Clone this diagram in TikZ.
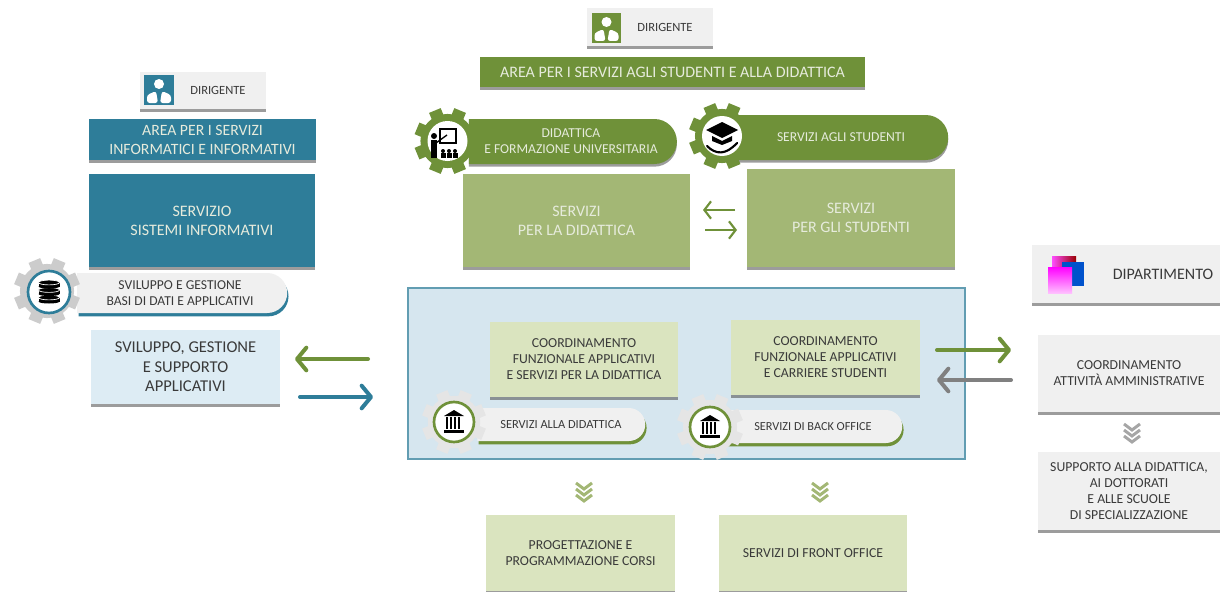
\documentclass[tikz,border=0pt]{standalone}
\usepackage{fontspec}
\setmainfont{Carlito}
\usetikzlibrary{arrows.meta,shadows,shapes.misc}
\definecolor{tealdark}{HTML}{2E7D99}
\definecolor{greendark}{HTML}{6F9139}
\definecolor{greenmid}{HTML}{A3B775}
\definecolor{greenpale}{HTML}{DAE4BF}
\definecolor{bluepale}{HTML}{DDECF4}
\definecolor{framefill}{HTML}{D6E6EF}
\definecolor{greypale}{HTML}{F0F0F0}
\definecolor{txtdark}{HTML}{3A3A3A}
\definecolor{txtlight}{HTML}{E6EBDC}
\tikzset{
	size/.style 2 args={minimum width=#1*0.75pt,minimum height=#2*0.75pt},
	softshadow/.style={drop shadow={shadow xshift=0pt,shadow yshift=-2pt,fill=black!70,opacity=0.55}},
	plainbox/.style={rectangle,inner sep=0pt,align=center,softshadow},
	darkbox/.style={plainbox,text=txtlight,font=\fontsize{12}{14.2}\selectfont},
	palebox/.style={plainbox,text=txtdark,font=\fontsize{10.3}{12}\selectfont},
	pillbox/.style={rounded rectangle,rounded rectangle left arc=none,inner sep=0pt,align=center,font=\fontsize{10.2}{12}\selectfont},
	greenpill/.style={pillbox,fill=greendark,text=txtlight,softshadow},
	whitepill/.style={pillbox,fill=greypale,text=txtdark,drop shadow={shadow xshift=1pt,shadow yshift=-2.5pt,fill=#1,opacity=1}},
	arrowline/.style={draw=#1,line width=3pt,line cap=round,-{Straight Barb[length=7pt,width=17pt,line width=3pt,round]}},
	chevron/.style={draw=#1,line width=2.2pt},
	icontile/.style={inner sep=0pt,rectangle},
}
\newcommand\gearat[4]{% x, y, radius, colour
	\fill[#4] (#1,#2) circle[radius=#3*0.82];
	\foreach \ang in {0,45,...,315}
		\fill[#4,rotate around={\ang+22.5:(#1,#2)}] (#1-#3*0.19,#2) rectangle (#1+#3*0.19,#2-#3);
}
\newcommand\personat[3]{% x, y, colour
	\fill[white] (#1,#2-7) circle[radius=5];
	\fill[white,rounded corners=2pt] (#1-12,#2+12) -- (#1-12,#2+4) -- (#1-3,#2) -- (#1-1,#2+12) -- cycle;
	\fill[white,rounded corners=2pt] (#1+12,#2+12) -- (#1+12,#2+4) -- (#1+3,#2) -- (#1+1,#2+12) -- cycle;
}
\newcommand\bankat[2]{% x, y
	\fill[black] (#1-10,#2-6) -- (#1,#2-12) -- (#1+10,#2-6) -- cycle;
	\fill[black] (#1-10,#2+8) rectangle (#1+10,#2+11);
	\foreach \dx in {-8,-4,0,4}
		\fill[black] (#1+\dx,#2-5) rectangle (#1+\dx+2.4,#2+7);
}
\newcommand\dbat[2]{% x, y
	\foreach \dy in {7.5,0,-7.5} {
		\fill[black] (#1-10.5,#2+\dy-2) rectangle (#1+10.5,#2+\dy+2);
		\fill[black] (#1,#2+\dy+2) ellipse[x radius=10.5,y radius=2];
		\fill[black,draw=white,line width=0.5pt] (#1,#2+\dy-2) ellipse[x radius=10.5,y radius=2.4];
	}
}
\newcommand\chevronsat[3]{% x, y, colour
	\foreach \dy in {-6,0,6}
		\draw[chevron=#3] (#1-8,#2+\dy-3) -- (#1,#2+\dy+3) -- (#1+8,#2+\dy-3);
}
\begin{document}
\begin{tikzpicture}[x=0.75pt,y=-0.75pt]
	\useasboundingbox (0,0) rectangle (1220,592);
	\fill[white] (0,0) rectangle (1220,592);

	\node[plainbox,fill=greypale,size={126}{37}] (dirleft) at (203,90.5) {};
	\node[icontile,fill=tealdark,size={30}{30}] (iconleft) at (159,90) {};
	\node[text=txtdark,font=\fontsize{9.4}{11}\selectfont] (dirlefttxt) at (218,90) {DIRIGENTE};
	\personat{159}{91}{tealdark}
	\node[darkbox,fill=tealdark,size={227}{41},font=\fontsize{11.8}{14.2}\selectfont] (arealeft) at (202.5,139.5) {AREA PER I SERVIZI\\INFORMATICI E INFORMATIVI};
	\node[darkbox,fill=tealdark,size={226}{93}] (servleft) at (202,220.5) {SERVIZIO\\SISTEMI INFORMATIVI};
	\node[whitepill=tealdark,size={210}{40}] (pillleft) at (180,293) {SVILUPPO E GESTIONE\\BASI DI DATI E APPLICATIVI};
	\gearat{47}{291}{33}{black!20}
	\fill[white,draw=tealdark,line width=2pt] (49,292) circle[radius=21];
	\dbat{49}{292}
	\node[plainbox,fill=bluepale,text=txtdark,size={189}{74},font=\fontsize{12.4}{14.5}\selectfont] (devleft) at (185.5,367) {SVILUPPO, GESTIONE\\E SUPPORTO\\APPLICATIVI};
	\coordinate (gra) at (368,359);
	\coordinate (grb) at (295,359);
	\coordinate (tea) at (300,397);
	\coordinate (teb) at (373,397);
	\draw[arrowline=greendark] (gra) -- (grb);
	\draw[arrowline=tealdark] (tea) -- (teb);

	\node[plainbox,fill=greypale,size={126}{38}] (dirmid) at (650,27) {};
	\node[icontile,fill=greendark,size={29}{30}] (iconmid) at (606.5,28) {};
	\node[text=txtdark,font=\fontsize{9.4}{11}\selectfont] (dirmidtxt) at (665,27) {DIRIGENTE};
	\personat{606.5}{29}{greendark}
	\node[darkbox,fill=greendark,size={385}{30}] (areamid) at (672.5,72) {AREA PER I SERVIZI AGLI STUDENTI E ALLA DIDATTICA};
	\node[greenpill,size={208}{45}] (pilldid) at (571,141.5) {DIDATTICA\\E FORMAZIONE UNIVERSITARIA};
	\gearat{447.5}{141}{33}{greendark}
	\fill[white] (447.5,141) circle[radius=20];
	\node[greenpill,size={214}{45}] (pillstu) at (841,137.5) {SERVIZI AGLI STUDENTI};
	\gearat{722}{136}{33}{greendark}
	\fill[white] (722,136) circle[radius=20];
	% teacher and cap
	\fill[black] (434,136) circle[radius=3];
	\fill[black] (431,140) rectangle (437,158);
	\draw[black,line width=0.8pt] (440,129) rectangle (456,143);
	\draw[black,line width=1pt] (436,143) -- (447,135);
	\foreach \dx in {443,449,455} {
		\fill[black] (\dx,151) circle[radius=2];
		\fill[black] (\dx-2.5,153) rectangle (\dx+2.5,158);
	}
	\fill[black] (722,122) -- (738,130) -- (722,138) -- (706,130) -- cycle;
	\fill[black] (712,136) -- (722,141) -- (732,136) -- (732,141) -- (722,145) -- (712,141) -- cycle;
	\draw[black,line width=1.6pt,line cap=round] (707,146) .. controls (716,155) and (726,155) .. (737,143);
	\node[darkbox,fill=greenmid,size={227}{93}] (servdid) at (576.5,220.5) {SERVIZI\\PER LA DIDATTICA};
	\node[darkbox,fill=greenmid,size={208}{98}] (servstu) at (851,218) {SERVIZI\\PER GLI STUDENTI};
	\coordinate (mla) at (735,210);
	\coordinate (mlb) at (703,210);
	\coordinate (mra) at (705,230);
	\coordinate (mrb) at (737,230);
	\draw[greendark,line width=1.6pt,-{Straight Barb[length=5pt,width=13pt]}] (mla) -- (mlb);
	\draw[greendark,line width=1.6pt,-{Straight Barb[length=5pt,width=13pt]}] (mra) -- (mrb);

	\node[draw=tealdark!75,line width=0.9pt,fill=framefill,rectangle,size={557}{171}] (frame) at (686.5,373.5) {};
	\node[palebox,fill=greenpale,size={188}{75}] (coorddid) at (584,359.5) {COORDINAMENTO\\FUNZIONALE APPLICATIVI\\E SERVIZI PER LA DIDATTICA};
	\node[palebox,fill=greenpale,size={189}{75}] (coordstu) at (825.5,357.5) {COORDINAMENTO\\FUNZIONALE APPLICATIVI\\E CARRIERE STUDENTI};
	\node[whitepill=greendark,size={168}{33},font=\fontsize{9.3}{11}\selectfont] (pillsvd) at (561,424.5) {SERVIZI ALLA DIDATTICA};
	\gearat{454}{422}{32}{black!10}
	\fill[white,draw=greendark,line width=2pt] (454,422) circle[radius=20];
	\bankat{454}{422}
	\node[whitepill=greendark,size={178}{33},font=\fontsize{9.2}{11}\selectfont] (pillbko) at (813,426.5) {SERVIZI DI BACK OFFICE};
	\gearat{710}{427}{33}{black!10}
	\fill[white,draw=greendark,line width=2pt] (710,427) circle[radius=20];
	\bankat{710}{427}
	\chevronsat{584}{492}{greenmid}
	\chevronsat{820}{492}{greenmid}
	\node[palebox,fill=greenpale,size={189}{76}] (progcorsi) at (580.5,553) {PROGETTAZIONE E\\PROGRAMMAZIONE CORSI};
	\node[palebox,fill=greenpale,size={188}{76}] (frontoff) at (813,553) {SERVIZI DI FRONT OFFICE};

	\node[plainbox,fill=greypale,size={188}{58}] (dipbox) at (1126,274) {};
	\shade[left color=magenta!70,right color=red!60!black] (1052,256) rectangle (1076,280);
	\fill[blue!60!cyan!80!black] (1062,262) rectangle (1084,286);
	\shade[top color=magenta,bottom color=magenta!25] (1048,267) rectangle (1072,293);
	\node[text=txtdark,font=\fontsize{12}{14}\selectfont] (diptxt) at (1163,274) {DIPARTIMENTO};
	\coordinate (raa) at (937,350);
	\coordinate (rab) at (1011,350);
	\coordinate (rga) at (1011,380);
	\coordinate (rgb) at (937,380);
	\draw[arrowline=greendark] (raa) -- (rab);
	\draw[arrowline=black!50] (rga) -- (rgb);
	\node[palebox,fill=greypale,size={182}{77}] (coordamm) at (1129,373.5) {COORDINAMENTO\\ATTIVITÀ AMMINISTRATIVE};
	\chevronsat{1132}{433}{black!35}
	\node[palebox,fill=greypale,size={182}{78}] (supporto) at (1129,491) {SUPPORTO ALLA DIDATTICA,\\AI DOTTORATI\\E ALLE SCUOLE\\DI SPECIALIZZAZIONE};
\end{tikzpicture}
\end{document}
